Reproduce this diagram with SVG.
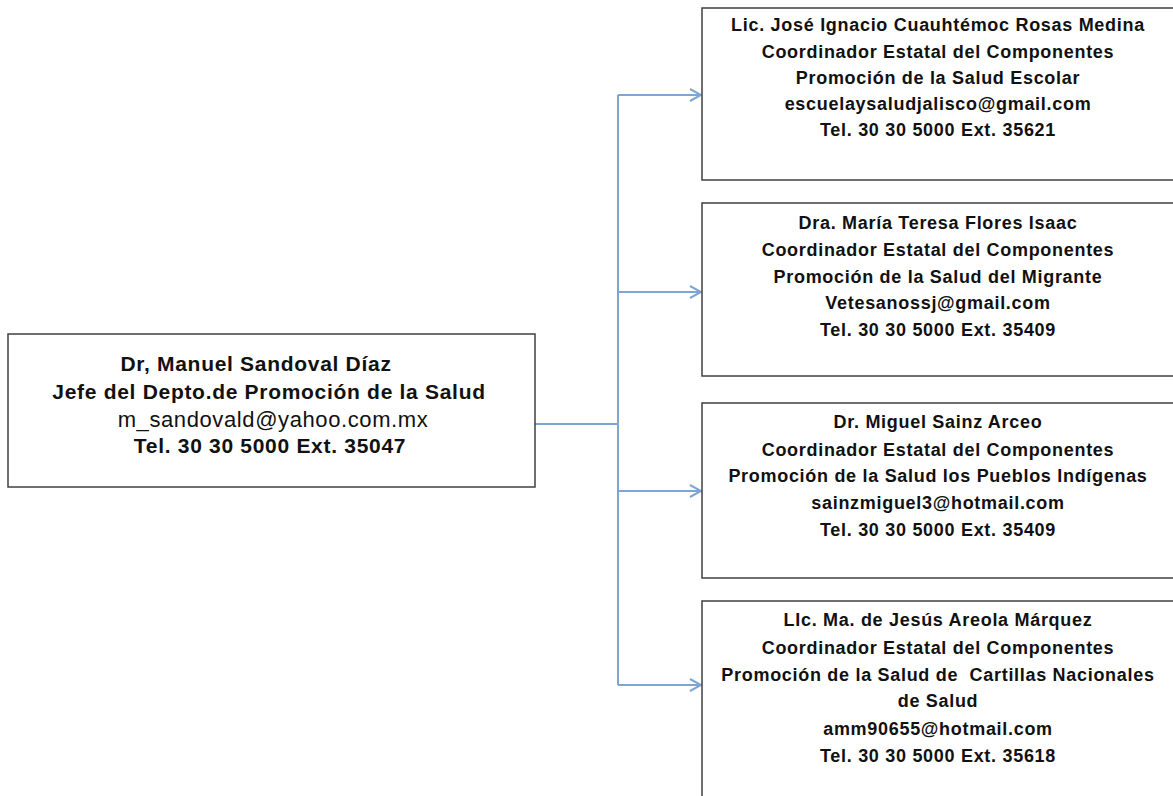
<svg xmlns="http://www.w3.org/2000/svg" width="1173" height="796" viewBox="0 0 1173 796">
<defs>
<style>
.box{fill:#fff;stroke:#404040;stroke-width:1.5}
.t{font-family:"Liberation Sans",Arial,sans-serif;text-anchor:middle;fill:#111}
.b{font-weight:bold;letter-spacing:0.7px}
.l{font-size:21px}
.e{font-size:22px;letter-spacing:0.6px}
.r{font-size:18px;font-weight:bold;letter-spacing:0.7px}
.c{fill:none;stroke:#7EA6D2;stroke-width:2}
</style>
<marker id="arr" markerWidth="14" markerHeight="14" refX="12" refY="7" orient="auto" markerUnits="userSpaceOnUse">
<path d="M1,1 L12,7 L1,13" fill="none" stroke="#7EA6D2" stroke-width="2"/>
</marker>
</defs>
<rect width="1173" height="796" fill="#fff"/>
<g id="connectors">
<path class="c" d="M535,424 H618"/>
<path class="c" d="M618,95 V685"/>
<path class="c" d="M618,95 H701" marker-end="url(#arr)"/>
<path class="c" d="M618,292 H701" marker-end="url(#arr)"/>
<path class="c" d="M618,491 H701" marker-end="url(#arr)"/>
<path class="c" d="M618,685 H701" marker-end="url(#arr)"/>
</g>
<g id="node-root">
<rect class="box" x="8" y="334" width="527" height="153"/>
<text class="t l b" x="256" y="371">Dr, Manuel Sandoval Díaz</text>
<text class="t l b" x="269" y="399">Jefe del Depto.de Promoción de la Salud</text>
<text class="t e" x="273" y="427">m_sandovald@yahoo.com.mx</text>
<text class="t l b" x="270" y="453">Tel. 30 30 5000 Ext. 35047</text>
</g>
<g id="node-1">
<rect class="box" x="702" y="8" width="475" height="172"/>
<text class="t r" x="938" y="31">Lic. José Ignacio Cuauhtémoc Rosas Medina</text>
<text class="t r" x="938" y="58">Coordinador Estatal del Componentes</text>
<text class="t r" x="938" y="84">Promoción de la Salud Escolar</text>
<text class="t r" x="938" y="110">escuelaysaludjalisco@gmail.com</text>
<text class="t r" x="938" y="136">Tel. 30 30 5000 Ext. 35621</text>
</g>
<g id="node-2">
<rect class="box" x="702" y="203" width="475" height="173"/>
<text class="t r" x="938" y="229">Dra. María Teresa Flores Isaac</text>
<text class="t r" x="938" y="256">Coordinador Estatal del Componentes</text>
<text class="t r" x="938" y="283">Promoción de la Salud del Migrante</text>
<text class="t r" x="938" y="309">Vetesanossj@gmail.com</text>
<text class="t r" x="938" y="336">Tel. 30 30 5000 Ext. 35409</text>
</g>
<g id="node-3">
<rect class="box" x="702" y="403" width="475" height="175"/>
<text class="t r" x="938" y="428">Dr. Miguel Sainz Arceo</text>
<text class="t r" x="938" y="456">Coordinador Estatal del Componentes</text>
<text class="t r" x="938" y="482">Promoción de la Salud los Pueblos Indígenas</text>
<text class="t r" x="938" y="509">sainzmiguel3@hotmail.com</text>
<text class="t r" x="938" y="536">Tel. 30 30 5000 Ext. 35409</text>
</g>
<g id="node-4">
<rect class="box" x="702" y="601" width="475" height="210"/>
<text class="t r" x="938" y="626">LIc. Ma. de Jesús Areola Márquez</text>
<text class="t r" x="938" y="654">Coordinador Estatal del Componentes</text>
<text class="t r" x="938" y="681">Promoción de la Salud de&#160; Cartillas Nacionales</text>
<text class="t r" x="938" y="707">de Salud</text>
<text class="t r" x="938" y="735">amm90655@hotmail.com</text>
<text class="t r" x="938" y="762">Tel. 30 30 5000 Ext. 35618</text>
</g>
</svg>
